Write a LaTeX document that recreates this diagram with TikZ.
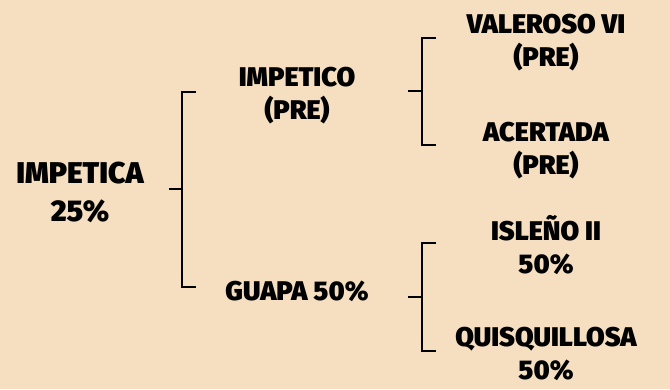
\documentclass[tikz,border=0pt]{standalone}
\usepackage{fontspec}
\setmainfont{Fira Sans}[BoldFont={Fira Sans Black}]
\definecolor{bg}{RGB}{245,223,192}
\begin{document}
\begin{tikzpicture}[x=1pt,y=-1pt,
  lbl/.style={font=\bfseries\fontsize{27}{33}\selectfont, align=center, inner sep=0pt},
  big/.style={font=\bfseries\fontsize{30}{38}\selectfont, align=center, inner sep=0pt},
  brk/.style={line width=2.3pt, black}]
\fill[bg] (0,0) rectangle (670,389);
\useasboundingbox (0,0) rectangle (670,389);
\node[big] (root) at (80,192) {IMPETICA\\25\%};
\node[lbl] (imco) at (297,96) {IMPETICO\\(PRE)};
\node[lbl] (guapa) at (297,291) {GUAPA 50\%};
\node[lbl] (val) at (546,43) {VALEROSO VI\\(PRE)};
\node[lbl] (ace) at (546,151) {ACERTADA\\(PRE)};
\node[lbl] (isl) at (546,245) {ISLEÑO II\\50\%};
\node[lbl] (qui) at (546,354) {QUISQUILLOSA\\50\%};
% left bracket
\coordinate (s1) at (169,189);
\coordinate (m1) at (182,189);
\coordinate (t1) at (182,92);
\coordinate (b1) at (182,287);
\draw[brk] (s1) -- (m1);
\draw[brk] ([xshift=14pt]t1) -- (t1) -- (b1) -- ([xshift=14pt]b1);
% upper right bracket
\coordinate (s2) at (408,91);
\coordinate (m2) at (422,91);
\coordinate (t2) at (422,38);
\coordinate (b2) at (422,145);
\draw[brk] (s2) -- (m2);
\draw[brk] ([xshift=14pt]t2) -- (t2) -- (b2) -- ([xshift=14pt]b2);
% lower right bracket
\coordinate (s3) at (408,297);
\coordinate (m3) at (422,297);
\coordinate (t3) at (422,243);
\coordinate (b3) at (422,351);
\draw[brk] (s3) -- (m3);
\draw[brk] ([xshift=14pt]t3) -- (t3) -- (b3) -- ([xshift=14pt]b3);
\end{tikzpicture}
\end{document}
